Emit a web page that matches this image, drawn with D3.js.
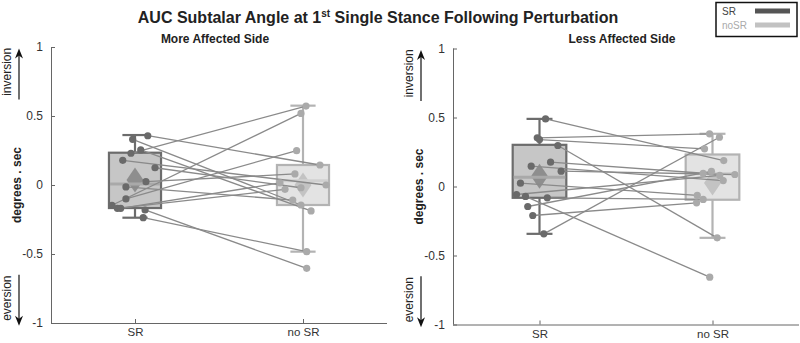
<!DOCTYPE html>
<html>
<head>
<meta charset="utf-8">
<script src="https://cdn.jsdelivr.net/npm/d3@7"></script>
<style>
  body { margin: 0; background: #fff; }
  svg { display: block; font-family: "Liberation Sans", Arial, sans-serif; }
</style>
</head>
<body>
<svg id="viz_area" width="800" height="343"></svg>
<script>
// categories and axis ticks
const categories = ["SR", "no SR"];
const yTicks = [-1, -0.5, 0, 0.5, 1];
const panelTitles = ["More Affected Side", "Less Affected Side"];
const legendLabels = ["SR", "noSR"];

// more affected side, paired by subject (index)
const moreSR       = [0.357, 0.331, 0.254, 0.23, 0.179, 0.125, 0.024, -0.014, -0.101, -0.147, -0.169, -0.169, -0.181, -0.237];
const moreSRJit    = [0.076, -0.014, 0.034, -0.024, -0.073, 0.119, 0.065, -0.054, -0.054, -0.137, -0.105, -0.085, 0.06, 0.049];
const moreNoSR     = [0.145, -0.145, -0.188, 0.572, 0.0, -0.02, 0.08, -0.109, 0.249, 0.519, -0.031, 0.015, -0.604, -0.483];
const moreNoSRJit  = [0.101, -0.012, 0.048, 0.018, 0.137, -0.012, -0.048, -0.061, -0.038, -0.012, -0.107, -0.137, 0.022, 0.022];
// box stats: [lower whisker, q1, median, q3, upper whisker, mean]
const moreBoxSR    = [-0.237, -0.167, 0.007, 0.234, 0.362, 0.036];
const moreBoxNoSR  = [-0.483, -0.145, 0.03, 0.145, 0.575, 0.0];

// less affected side
const lessSR       = [0.49, 0.353, 0.34, 0.297, 0.176, 0.147, 0.111, 0.024, -0.058, -0.072, -0.082, -0.145, -0.21, -0.343];
const lessSRJit    = [0.035, -0.013, 0.0, 0.106, 0.064, -0.048, 0.125, -0.11, -0.133, -0.081, 0.045, -0.068, -0.039, 0.025];
const lessNoSR     = [0.188, 0.382, 0.273, -0.372, 0.096, 0.043, 0.087, -0.065, 0.08, -0.657, -0.094, 0.11, -0.118, 0.357];
const lessNoSRJit  = [0.065, -0.017, -0.046, 0.027, -0.054, 0.062, 0.129, -0.088, 0.042, -0.016, -0.054, -0.006, -0.092, 0.04];
const lessBoxSR    = [-0.343, -0.082, 0.067, 0.302, 0.49, 0.074];
const lessBoxNoSR  = [-0.372, -0.096, 0.094, 0.232, 0.382, 0.025];

const svg = d3.select("#viz_area");

const colSR = {fill: "#c6c6c6", edge: "#6c6c6c", dot: "#6a6a6a", med: "#a9a9a9", mean: "#8e8e8e"};
const colNo = {fill: "#e3e3e3", edge: "#b3b3b3", dot: "#aaaaaa", med: "#d0d0d0", mean: "#c3c3c3"};

// title
const title = svg.append("text")
    .attr("x", 378).attr("y", 23)
    .attr("text-anchor", "middle")
    .style("font-weight", "bold").style("font-size", "16px").attr("fill", "#222");
title.append("tspan").text("AUC Subtalar Angle at 1");
title.append("tspan").text("st").style("font-size", "10px").attr("dy", -6);
title.append("tspan").text(" Single Stance Following Perturbation").attr("dy", 6);

const panels = [
    {left: 51, right: 387, top: 47, bottom: 323, sr: moreSR, srJ: moreSRJit, no: moreNoSR, noJ: moreNoSRJit, bSR: moreBoxSR, bNo: moreBoxNoSR},
    {left: 453, right: 799, top: 48.5, bottom: 324.5, sr: lessSR, srJ: lessSRJit, no: lessNoSR, noJ: lessNoSRJit, bSR: lessBoxSR, bNo: lessBoxNoSR}
];

panels.forEach((p, pi) => {
    const x = d3.scaleLinear().domain([0.5, 2.5]).range([p.left, p.right]);
    const y = d3.scaleLinear().domain([-1, 1]).range([p.bottom, p.top]);
    const g = svg.append("g");

    // panel title
    g.append("text")
        .attr("x", (p.left + p.right) / 2 - 4).attr("y", 43)
        .attr("text-anchor", "middle")
        .style("font-weight", "bold").style("font-size", "12px").attr("fill", "#222")
        .text(panelTitles[pi]);

    // axes
    const ya = g.append("g").attr("transform", `translate(${p.left},0)`)
        .call(d3.axisLeft(y).tickValues(yTicks).tickFormat(d => String(d)).tickSize(-4).tickPadding(8));
    const xa = g.append("g").attr("transform", `translate(0,${p.bottom})`)
        .call(d3.axisBottom(x).tickValues([1, 2]).tickFormat((d, i) => categories[i]).tickSize(-4).tickPadding(5));
    [ya, xa].forEach(a => {
        a.select(".domain").attr("stroke", "#666").attr("d", null);
        a.selectAll(".tick line").attr("stroke", "#666");
        a.selectAll("text").style("font-size", "12px").attr("fill", "#333");
    });
    xa.selectAll("text").style("font-size", "11.5px");
    ya.select(".domain").attr("d", `M0.5,${p.top}V${p.bottom}`);
    xa.select(".domain").attr("d", `M${p.left},0.5H${p.right}`);

    // y labels and arrows
    const ax = p.left;
    g.append("text")
        .attr("transform", `translate(${ax - 30},${y(0)}) rotate(-90)`)
        .attr("text-anchor", "middle")
        .style("font-weight", "bold").style("font-size", "12px").attr("fill", "#222")
        .text("degrees . sec");
    g.append("text")
        .attr("transform", `translate(${ax - 40},${y(0.82)}) rotate(-90)`)
        .attr("text-anchor", "middle").style("font-size", "12px").attr("fill", "#222")
        .text("inversion");
    g.append("text")
        .attr("transform", `translate(${ax - 40},${y(-0.82)}) rotate(-90)`)
        .attr("text-anchor", "middle").style("font-size", "12px").attr("fill", "#222")
        .text("eversion");
    const arrX = ax - 32;
    const drawArrow = (y0, y1) => {
        const dir = y1 < y0 ? 1 : -1;
        g.append("line").attr("x1", arrX).attr("x2", arrX)
            .attr("y1", y0).attr("y2", y1 + dir * 6).attr("stroke", "#111").attr("stroke-width", 1.2);
        g.append("path")
            .attr("d", `M${arrX},${y1} L${arrX - 4},${y1 + dir * 10} L${arrX},${y1 + dir * 7} L${arrX + 4},${y1 + dir * 10} Z`)
            .attr("fill", "#111");
    };
    drawArrow(y(0.62), y(0.99));
    drawArrow(y(-0.65), y(-1.02));

    // boxes
    const bw = 0.31, cw = 0.15;
    const drawBox = (cx, b, c) => {
        const [lo, q1, med, q3, hi, mean] = b;
        g.append("line").attr("x1", x(cx)).attr("x2", x(cx)).attr("y1", y(hi)).attr("y2", y(lo))
            .attr("stroke", c.edge).attr("stroke-width", 2.2);
        [lo, hi].forEach(v => g.append("line")
            .attr("x1", x(cx - cw / 2)).attr("x2", x(cx + cw / 2)).attr("y1", y(v)).attr("y2", y(v))
            .attr("stroke", c.edge).attr("stroke-width", 2.2));
        g.append("rect").attr("x", x(cx - bw / 2)).attr("width", x(cx + bw / 2) - x(cx - bw / 2))
            .attr("y", y(q3)).attr("height", y(q1) - y(q3))
            .attr("fill", c.fill).attr("stroke", c.edge).attr("stroke-width", 2.2);
        const my = y(mean), mx = x(cx);
        g.append("path").attr("d", `M${mx},${my - 12.5} L${mx + 8.5},${my} L${mx},${my + 12.5} L${mx - 8.5},${my} Z`)
            .attr("fill", c.mean);
        g.append("line").attr("x1", x(cx - bw / 2) + 1).attr("x2", x(cx + bw / 2) - 1)
            .attr("y1", y(med)).attr("y2", y(med)).attr("stroke", c.med).attr("stroke-width", 3);
    };
    drawBox(1, p.bSR, colSR);
    drawBox(2, p.bNo, colNo);

    // paired lines
    g.selectAll(".pair").data(p.sr).enter().append("line")
        .attr("x1", (d, i) => x(1 + p.srJ[i])).attr("y1", d => y(d))
        .attr("x2", (d, i) => x(2 + p.noJ[i])).attr("y2", (d, i) => y(p.no[i]))
        .attr("stroke", "#8a8a8a").attr("stroke-width", 1.3);

    // dots
    g.selectAll(".dsr").data(p.sr).enter().append("circle")
        .attr("cx", (d, i) => x(1 + p.srJ[i])).attr("cy", d => y(d)).attr("r", 3.6)
        .attr("fill", colSR.dot);
    g.selectAll(".dno").data(p.no).enter().append("circle")
        .attr("cx", (d, i) => x(2 + p.noJ[i])).attr("cy", d => y(d)).attr("r", 3.6)
        .attr("fill", colNo.dot);
});

// legend
const lg = svg.append("g");
lg.append("rect").attr("x", 716).attr("y", 2.5).attr("width", 81).attr("height", 34)
    .attr("fill", "#fff").attr("stroke", "#111").attr("stroke-width", 1.5);
const legCols = ["#555555", "#c2c2c2"];
legendLabels.forEach((t, i) => {
    lg.append("text").attr("x", 722).attr("y", 15 + i * 14)
        .style("font-size", "10px").attr("fill", i === 0 ? "#444" : "#aaa").text(t);
    lg.append("line").attr("x1", 755).attr("x2", 790).attr("y1", 11 + i * 14).attr("y2", 11 + i * 14)
        .attr("stroke", legCols[i]).attr("stroke-width", 5);
});
</script>
</body>
</html>
